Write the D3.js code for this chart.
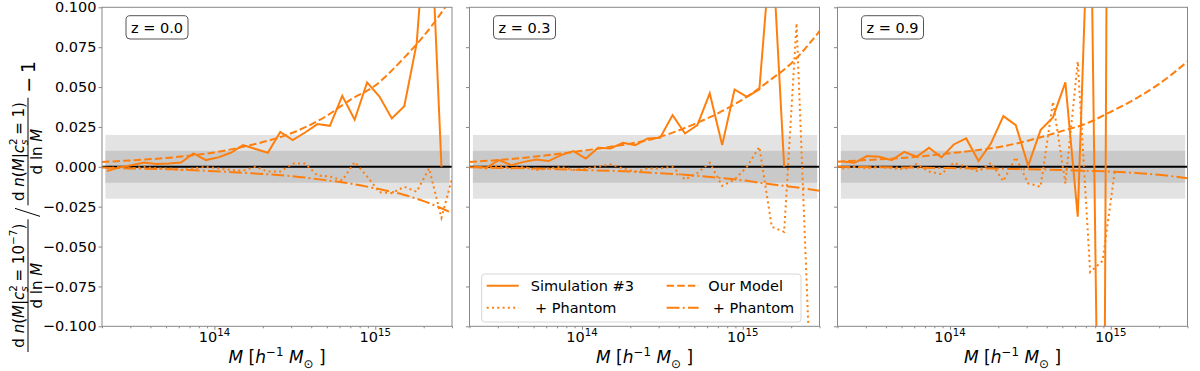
<!DOCTYPE html>
<html>
<head>
<meta charset="utf-8">
<script src="https://cdn.jsdelivr.net/npm/d3@7"></script>
<style>
  body { margin: 0; background: #fff; }
  text { font-family: "DejaVu Sans", sans-serif; fill: #000; }
</style>
</head>
<body>
<svg id="plot"></svg>
<script>
// halo mass bins (h^-1 Msun) used by the simulation ratios
const binMass = [2.14e13, 2.55e13, 3.05e13, 3.64e13, 4.35e13, 5.20e13, 6.20e13, 7.41e13, 8.85e13,
  1.057e14, 1.262e14, 1.507e14, 1.800e14, 2.149e14, 2.567e14, 3.065e14, 3.661e14, 4.372e14, 5.221e14,
  6.235e14, 7.447e14, 8.894e14, 1.062e15, 1.268e15, 1.515e15, 1.809e15, 2.160e15, 2.580e15, 3.081e15];
// masses where the model curves were read
const modelMass = [2e13, 3e13, 5e13, 7e13, 1e14, 1.5e14, 2e14, 3e14, 5e14, 7e14, 1e15, 1.5e15, 2e15, 3e15];

const redshifts = ["z = 0.0", "z = 0.3", "z = 0.9"];

// z = 0.0
const simZ00 = [-0.0027, -0.0004, 0.0010, 0.0027, 0.0017, 0.0020, 0.0027, 0.0084, 0.0042, 0.0059, 0.0088,
  0.0136, 0.0112, 0.0088, 0.0218, 0.0167, 0.0215, 0.0268, 0.0257, 0.0445, 0.0295, 0.0529, 0.0440, 0.0303,
  0.0380, 0.0774, 0.180, 0.0];
const simPhZ00 = [-0.001, 0.000, -0.001, 0.000, -0.001, -0.001, -0.002, -0.001, 0.000, -0.001, -0.002,
  -0.0025, 0.000, -0.003, -0.003, 0.002, 0.002, -0.0055, -0.006, -0.0085, 0.003, -0.006, -0.016, -0.0165,
  -0.0125, -0.0157, -0.001, -0.032, -0.003];
const modelZ00 = [0.003, 0.004, 0.0055, 0.007, 0.009, 0.0125, 0.0155, 0.021, 0.032, 0.042, 0.051, 0.068, 0.082, 0.106];
const modelPhZ00 = [-0.0005, -0.001, -0.0015, -0.002, -0.0028, -0.0037, -0.0045, -0.0058, -0.0085, -0.0105,
  -0.0135, -0.0175, -0.0215, -0.029];

// z = 0.3
const simZ03 = [0.000, -0.0005, 0.0042, 0.0010, 0.0031, 0.0046, 0.0036, 0.0073, 0.0098, 0.0052, 0.0119,
  0.0115, 0.0150, 0.0136, 0.0178, 0.0182, 0.0324, 0.0209, 0.0261, 0.0460, 0.0136, 0.0485, 0.0439, 0.0485,
  0.145, 0.0];
const simPhZ03 = [0.000, -0.001, 0.001, -0.001, 0.000, -0.002, -0.001, 0.000, -0.002, -0.001, 0.000, 0.0015,
  -0.001, -0.003, -0.001, -0.001, 0.000, -0.008, -0.004, 0.0025, -0.012, -0.008, 0.000, 0.0125, -0.0376,
  -0.0408, 0.090, -0.11];
const modelZ03 = [0.003, 0.0042, 0.0063, 0.008, 0.010, 0.0125, 0.0145, 0.0185, 0.0268, 0.0335, 0.0423, 0.0548, 0.0648, 0.085];
const modelPhZ03 = [-0.0003, -0.0007, -0.001, -0.0015, -0.002, -0.0025, -0.003, -0.004, -0.0055, -0.0068,
  -0.0085, -0.011, -0.0125, -0.015];

// z = 0.9
const simZ09 = [0.0033, 0.0025, 0.0067, 0.0063, 0.0042, 0.0094, 0.0063, 0.0119, 0.0059, 0.0140, 0.0178,
  0.0036, 0.0147, 0.0318, 0.0261, 0.0006, 0.0230, 0.0310, 0.0529, -0.0313, 0.200, -0.400, 1.2];
const simPhZ09 = [-0.001, 0.000, -0.001, 0.000, -0.001, -0.0015, 0.0017, -0.003, -0.0046, 0.0025, 0.000,
  -0.003, 0.0025, -0.009, 0.006, -0.0104, -0.0125, 0.0408, -0.0104, 0.066, -0.066, -0.059, -0.002];
const modelZ09 = [0.0032, 0.0042, 0.0055, 0.0068, 0.0085, 0.0105, 0.0123, 0.0162, 0.0225, 0.027, 0.0345, 0.044, 0.052, 0.066];
const modelPhZ09 = [0.0, -0.0002, -0.0004, -0.0006, -0.0008, -0.001, -0.0012, -0.0015, -0.002, -0.0025,
  -0.003, -0.004, -0.005, -0.0072];

const sims = [simZ00, simZ03, simZ09];
const simsPh = [simPhZ00, simPhZ03, simPhZ09];
const models = [modelZ00, modelZ03, modelZ09];
const modelsPh = [modelPhZ00, modelPhZ03, modelPhZ09];

const yTicks = [-0.1, -0.075, -0.05, -0.025, 0, 0.025, 0.05, 0.075, 0.1];
const xMajor = [1e14, 1e15];
const bandMass = [2.1e13, 2.9e15];

const width = 1200, height = 371;
const panelLeft = [102, 469.5, 837.5];
const panelTop = 7.3;
const panelW = 350, panelH = 319;
const orange = "#ff7f0e";
const fs = 14.5;

const svg = d3.select("#plot").attr("width", width).attr("height", height);

const x = d3.scaleLog().domain([2e13, 3e15]).range([0, panelW]);
const y = d3.scaleLinear().domain([-0.1, 0.1]).range([panelH, 0]);

const styles = {
  solid: null,
  dotted: "2,3.3",
  dashed: "7.4,3.2",
  dashdot: "12.8,3.2,2,3.2"
};

// write text made of runs: kind may hold "i" (italic), "sup", "sub"
function runs(text, parts, size) {
  let shift = 0;
  parts.forEach(([s, kind = "", dx = 0]) => {
    const sup = kind.includes("sup"), sub = kind.includes("sub");
    const target = sup ? -0.42 * size : sub ? 0.28 * size : 0;
    const ts = text.append("tspan").text(s)
      .attr("dy", target - shift)
      .attr("font-size", (sup || sub) ? size * 0.7 : size);
    if (kind.includes("i")) ts.attr("font-style", "italic");
    if (dx) ts.attr("dx", dx);
    shift = target;
  });
}

const lineSim = d3.line().x((d) => x(d[0])).y((d) => y(d[1]));
const lineModel = d3.line().x((d) => x(d[0])).y((d) => y(d[1])).curve(d3.curveMonotoneX);

function panel(k) {
  const g = svg.append("g").attr("transform", "translate(" + panelLeft[k] + "," + panelTop + ")");

  g.append("clipPath").attr("id", "clip" + k)
    .append("rect").attr("width", panelW).attr("height", panelH);

  // shaded 2% and 1% bands
  g.append("rect")
    .attr("x", x(bandMass[0])).attr("width", x(bandMass[1]) - x(bandMass[0]))
    .attr("y", y(0.02)).attr("height", y(-0.02) - y(0.02))
    .attr("fill", "#e3e3e3");
  g.append("rect")
    .attr("x", x(bandMass[0])).attr("width", x(bandMass[1]) - x(bandMass[0]))
    .attr("y", y(0.01)).attr("height", y(-0.01) - y(0.01))
    .attr("fill", "#c9c9c9");

  g.append("line")
    .attr("x1", 0).attr("x2", panelW)
    .attr("y1", y(0)).attr("y2", y(0))
    .attr("stroke", "#000").attr("stroke-width", 2);

  const lines = g.append("g").attr("clip-path", "url(#clip" + k + ")");

  const series = [
    [binMass, sims[k], "solid", lineSim],
    [binMass, simsPh[k], "dotted", lineSim],
    [modelMass, models[k], "dashed", lineModel],
    [modelMass, modelsPh[k], "dashdot", lineModel]
  ];
  series.forEach(([xs, ys, st, gen]) => {
    lines.append("path")
      .datum(ys.map((v, i) => [xs[i], v]))
      .attr("d", gen)
      .attr("fill", "none")
      .attr("stroke", orange)
      .attr("stroke-width", 2)
      .attr("stroke-dasharray", styles[st]);
  });

  // axes
  const minor = x.ticks().filter((t) => !xMajor.includes(t));
  const xMinorAxis = g.append("g").attr("transform", "translate(0," + panelH + ")")
    .call(d3.axisBottom(x).tickValues(minor).tickSize(2).tickSizeOuter(0).tickFormat(""));
  const xMajorAxis = g.append("g").attr("transform", "translate(0," + panelH + ")")
    .call(d3.axisBottom(x).tickValues(xMajor).tickSize(3.5).tickSizeOuter(0).tickFormat(""));
  const yAxis = g.append("g")
    .call(d3.axisLeft(y).tickValues(yTicks).tickSize(3.5).tickSizeOuter(0).tickPadding(2)
      .tickFormat(k === 0 ? d3.format(".3f") : ""));

  [xMinorAxis, xMajorAxis, yAxis].forEach((a) => {
    a.select(".domain").remove();
    a.selectAll(".tick line").attr("stroke", "#888");
  });
  yAxis.selectAll("text").attr("font-size", fs).attr("font-family", "DejaVu Sans").attr("fill", "#000");

  xMajor.forEach((m) => {
    const t = g.append("text")
      .attr("x", x(m)).attr("y", panelH + 16)
      .attr("text-anchor", "middle");
    runs(t, [["10"], [Math.log10(m).toFixed(0), "sup"]], fs);
  });

  g.append("rect")
    .attr("width", panelW).attr("height", panelH)
    .attr("fill", "none").attr("stroke", "#888").attr("stroke-width", 1);

  // redshift box
  g.append("rect")
    .attr("x", 24).attr("y", 8.4).attr("width", 62).attr("height", 23.3).attr("rx", 4)
    .attr("fill", "#fff").attr("stroke", "#555").attr("stroke-width", 1);
  g.append("text")
    .attr("x", 55).attr("y", 25.3).attr("text-anchor", "middle")
    .attr("font-size", fs).text(redshifts[k]);

  // x label
  const xl = g.append("text")
    .attr("x", panelW / 2).attr("y", 356).attr("text-anchor", "middle");
  runs(xl, [["M", "i"], [" ["], ["h", "i"], ["\u22121", "sup"], [" "], ["M", "i"], ["\u2299", "sub"], [" ]"]], 17);

  return g;
}

function legend(g) {
  const lg = g.append("g");
  lg.append("rect")
    .attr("x", 12.2).attr("y", 266.7).attr("width", 319.3).attr("height", 48).attr("rx", 3)
    .attr("fill", "#fff").attr("fill-opacity", 0.8)
    .attr("stroke", "#d6d6d6").attr("stroke-width", 1);

  const entries = [
    ["Simulation #3", "solid", 17.2, 61.2, 278.4],
    ["+ Phantom", "dotted", 17.2, 65.5, 300.4],
    ["Our Model", "dashed", 197.2, 238.8, 278.4],
    ["+ Phantom", "dashdot", 197.2, 243.2, 300.4]
  ];
  entries.forEach(([label, st, hx, tx, cy]) => {
    lg.append("line")
      .attr("x1", hx).attr("x2", hx + 32)
      .attr("y1", cy).attr("y2", cy)
      .attr("stroke", orange).attr("stroke-width", 2)
      .attr("stroke-dasharray", styles[st]);
    lg.append("text")
      .attr("x", tx).attr("y", cy + 5.2)
      .attr("font-size", fs).text(label);
  });
}

function yLabel() {
  // rotated frame: local x runs up the page, local y runs to the right
  const g = svg.append("g").attr("transform", "translate(28,0) rotate(-90)");
  const fsF = 15;
  let pos = -352;

  const frac = (num) => {
    const n = g.append("text").attr("y", -4.5).attr("text-anchor", "middle");
    runs(n, num, fsF);
    const d = g.append("text").attr("y", 13.5).attr("text-anchor", "middle");
    runs(d, [["d ln "], ["M", "i"]], fsF);
    const w = Math.max(n.node().getComputedTextLength(), d.node().getComputedTextLength()) + 2;
    n.attr("x", pos + w / 2);
    d.attr("x", pos + w / 2);
    g.append("line").attr("x1", pos).attr("x2", pos + w).attr("y1", 0).attr("y2", 0)
      .attr("stroke", "#000").attr("stroke-width", 1);
    pos += w;
  };

  frac([["d "], ["n", "i"], ["("], ["M", "i"], ["|"], ["c", "i"], ["2", "sup"],
    ["s", "subi", -6.7], [" = 10"], ["\u22127", "sup"], [")"]]);
  pos += 3;
  g.append("line").attr("x1", pos).attr("y1", 12).attr("x2", pos + 8).attr("y2", -13)
    .attr("stroke", "#000").attr("stroke-width", 1);
  pos += 11;
  frac([["d "], ["n", "i"], ["("], ["M", "i"], ["|"], ["c", "i"], ["2", "sup"],
    ["s", "subi", -6.7], [" = 1)"]]);
  g.append("text").attr("x", pos + 5).attr("y", 6.5).attr("font-size", 19).text("\u2212\u20091");
}

const panels = [0, 1, 2].map(panel);
legend(panels[1]);
yLabel();
</script>
</body>
</html>
